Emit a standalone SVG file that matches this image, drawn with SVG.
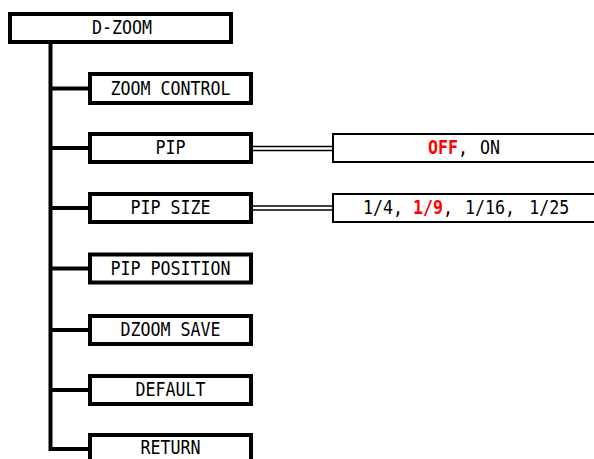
<svg xmlns="http://www.w3.org/2000/svg" width="594" height="459" viewBox="0 0 594 459">
<style>
.box{fill:#fff;stroke:#000;stroke-width:4}
.vbox{fill:#fff;stroke:#000;stroke-width:2}
.ln{stroke:#000;stroke-width:4;fill:none}
.dl{stroke:#000;stroke-width:1.6;fill:none}
text{font-family:"DejaVu Sans Mono","Liberation Mono",monospace;font-size:19px;fill:#000}
.lbl{text-anchor:middle}
.red{fill:#ff0000;font-weight:bold}
</style>
<rect width="594" height="459" fill="#fff"/>
<g id="connectors">
<path class="ln" d="M50.5,44 V449 M50.5,88.5 H90 M50.5,148 H90 M50.5,208 H90 M50.5,268.5 H90 M50.5,330 H90 M50.5,390 H90 M48.5,449 H90"/>
<path class="dl" d="M252,146.5 H333 M252,150.5 H333 M252,206 H333 M252,210 H333"/>
</g>
<g id="d-zoom"><rect class="box" x="10" y="14" width="221" height="28"/><text class="lbl" transform="scale(0.875,1)" x="139.43" y="34.5">D-ZOOM</text></g>
<g id="zoom-control"><rect class="box" x="90" y="74" width="161" height="29"/><text class="lbl" transform="scale(0.875,1)" x="194.86" y="95">ZOOM CONTROL</text></g>
<g id="pip"><rect class="box" x="90" y="134" width="161" height="28"/><text class="lbl" transform="scale(0.875,1)" x="194.86" y="154.5">PIP</text></g>
<g id="pip-size"><rect class="box" x="90" y="194" width="161" height="28"/><text class="lbl" transform="scale(0.875,1)" x="194.86" y="214.5">PIP SIZE</text></g>
<g id="pip-position"><rect class="box" x="90" y="254.5" width="161" height="28"/><text class="lbl" transform="scale(0.875,1)" x="194.86" y="275">PIP POSITION</text></g>
<g id="dzoom-save"><rect class="box" x="90" y="316" width="161" height="28"/><text class="lbl" transform="scale(0.875,1)" x="194.86" y="336.5">DZOOM SAVE</text></g>
<g id="default"><rect class="box" x="90" y="376" width="161" height="28"/><text class="lbl" transform="scale(0.875,1)" x="194.86" y="396.5">DEFAULT</text></g>
<g id="return"><rect class="box" x="90" y="435" width="161" height="30"/><text class="lbl" transform="scale(0.875,1)" x="194.86" y="454.3">RETURN</text></g>
<g id="pip-values"><rect class="vbox" x="333" y="134" width="270" height="28"/>
<text transform="scale(0.875,1)" x="489.14" y="154.5"><tspan class="red">OFF</tspan>,<tspan dx="2.3"> ON</tspan></text></g>
<g id="pip-size-values"><rect class="vbox" x="333" y="194" width="270" height="28"/>
<text transform="scale(0.875,1)" x="414.86" y="214.5">1/4,<tspan dx="0"> </tspan><tspan class="red">1/9</tspan>,<tspan dx="2.3"> 1/16,</tspan><tspan dx="4.6"> 1/25</tspan></text></g>
</svg>
